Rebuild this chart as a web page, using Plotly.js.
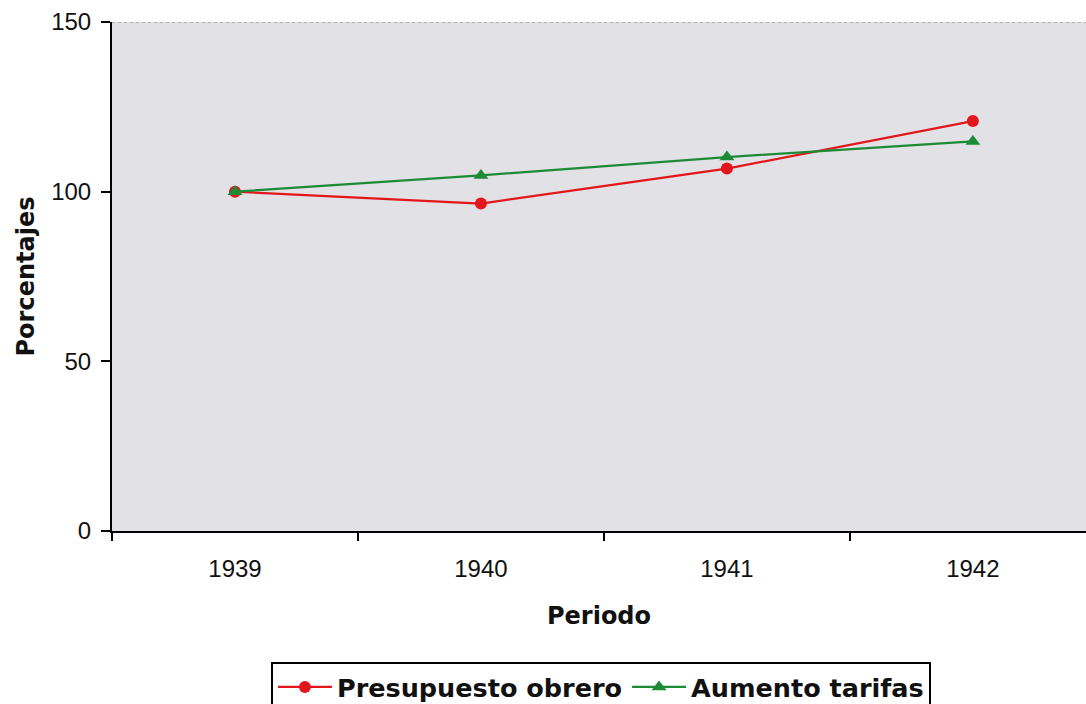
<!DOCTYPE html>
<html>
<head>
<meta charset="utf-8">
<script src="https://cdn.plot.ly/plotly-3.0.1.min.js"></script>
<style>html,body{margin:0;padding:0;background:#fff;}#chart{width:1086px;height:704px;}</style>
</head>
<body>
<div id="chart"></div>
<script>
const categories = ["1939", "1940", "1941", "1942"];
const presupuestoObrero = [100, 96.5, 106.8, 120.8];
const aumentoTarifas = [100, 104.8, 110.2, 114.8];
const yTicks = [0, 50, 100, 150];

const traces = [
  {
    x: categories, y: presupuestoObrero, type: "scatter", mode: "lines+markers",
    name: "Presupuesto obrero",
    line: {color: "#e3161b", width: 2.2},
    marker: {color: "#e3161b", symbol: "circle", size: 12}
  },
  {
    x: categories, y: aumentoTarifas, type: "scatter", mode: "lines+markers",
    name: "Aumento tarifas",
    line: {color: "#1d8a36", width: 2.2},
    marker: {color: "#1d8a36", symbol: "triangle-up", size: 13}
  }
];

const layout = {
  width: 1086, height: 704,
  margin: {l: 112, r: 0, t: 22, b: 173, autoexpand: false},
  paper_bgcolor: "#ffffff",
  plot_bgcolor: "#e1e1e6",
  showlegend: true,
  xaxis: {
    type: "category",
    range: [-0.5, 3.46],
    automargin: false,
    showgrid: false, zeroline: false,
    showline: true, linecolor: "#000", linewidth: 2,
    ticks: "outside", tickson: "boundaries", ticklen: 8, tickwidth: 2, tickcolor: "#000",
    ticklabelstandoff: 15,
    tickfont: {family: "Liberation Sans, Arial, sans-serif", size: 24, color: "#111"},
    title: {text: "Periodo", font: {family: "DejaVu Sans, Verdana, sans-serif", size: 24, color: "#111", weight: "bold"}, standoff: 26}
  },
  yaxis: {
    range: [0, 150],
    automargin: false,
    tickvals: yTicks,
    ticktext: yTicks.map(String),
    showgrid: false, zeroline: false,
    showline: true, linecolor: "#000", linewidth: 2,
    ticks: "outside", ticklen: 9, tickwidth: 2, tickcolor: "#000",
    ticklabelstandoff: 5,
    tickfont: {family: "Liberation Sans, Arial, sans-serif", size: 24, color: "#111"},
    title: {text: "Porcentajes", font: {family: "DejaVu Sans, Verdana, sans-serif", size: 24, color: "#111", weight: "bold"}, standoff: 10}
  },
  shapes: [
    {type: "line", xref: "paper", yref: "y", x0: 0, x1: 1, y0: 150, y1: 150,
     line: {color: "#999", width: 1.5, dash: "dot"}}
  ],
  legend: {
    orientation: "h",
    x: 0.502, xanchor: "center",
    y: -0.257, yanchor: "top",
    bgcolor: "#ffffff",
    bordercolor: "#000", borderwidth: 2,
    font: {family: "DejaVu Sans, Verdana, sans-serif", size: 25.5, color: "#111", weight: "bold"},
    itemwidth: 54,
    tracegroupgap: 0
  }
};

Plotly.newPlot("chart", traces, layout, {displayModeBar: false, staticPlot: true});
</script>
</body>
</html>
